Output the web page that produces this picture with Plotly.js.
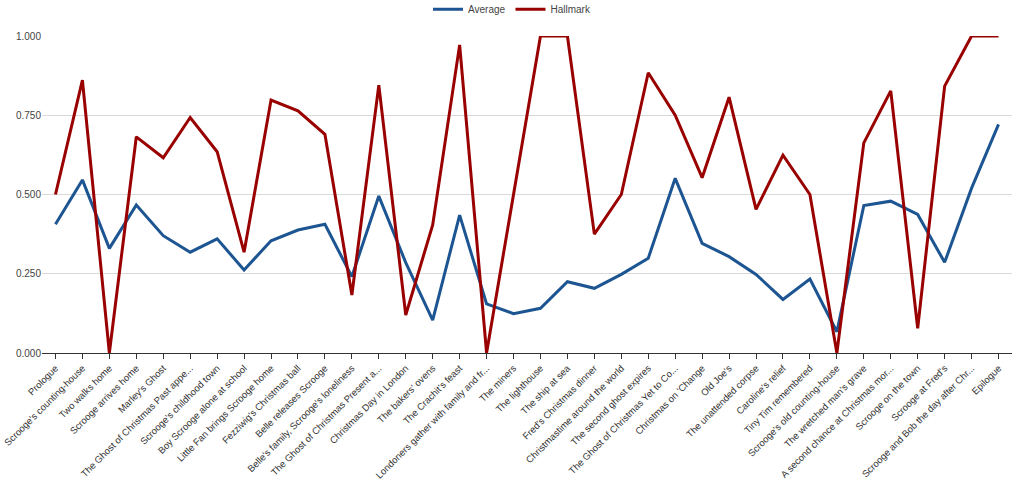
<!DOCTYPE html>
<html>
<head>
<meta charset="utf-8">
<script src="https://cdn.plot.ly/plotly-3.0.1.min.js"></script>
<style>html,body{margin:0;padding:0;background:#fff}#chart{width:1024px;height:488px}</style>
</head>
<body>
<div id="chart"></div>
<script>
var categories = [
  "Prologue",
  "Scrooge's counting-house",
  "Two walks home",
  "Scrooge arrives home",
  "Marley's Ghost",
  "The Ghost of Christmas Past appe...",
  "Scrooge's childhood town",
  "Boy Scrooge alone at school",
  "Little Fan brings Scrooge home",
  "Fezziwig's Christmas ball",
  "Belle releases Scrooge",
  "Belle's family, Scrooge's loneliness",
  "The Ghost of Christmas Present a...",
  "Christmas Day in London",
  "The bakers' ovens",
  "The Crachit's feast",
  "Londoners gather with family and fr...",
  "The miners",
  "The lighthouse",
  "The ship at sea",
  "Fred's Christmas dinner",
  "Christmastime around the world",
  "The second ghost expires",
  "The Ghost of Christmas Yet to Co...",
  "Christmas on 'Change",
  "Old Joe's",
  "The unattended corpse",
  "Caroline's relief",
  "Tiny Tim remembered",
  "Scrooge's old counting-house",
  "The wretched man's grave",
  "A second chance at Christmas mor...",
  "Scrooge on the town",
  "Scrooge at Fred's",
  "Scrooge and Bob the day after Chr...",
  "Epilogue"
];
var averageValues = [
  0.406, 0.546, 0.330, 0.467, 0.370, 0.318, 0.360, 0.262, 0.354, 0.388,
  0.406, 0.241, 0.495, 0.285, 0.104, 0.435, 0.155, 0.124, 0.141, 0.225,
  0.204, 0.248, 0.299, 0.551, 0.346, 0.304, 0.248, 0.169, 0.233, 0.067,
  0.465, 0.479, 0.437, 0.286, 0.520, 0.721
];
var hallmarkValues = [
  0.500, 0.861, 0.000, 0.682, 0.616, 0.743, 0.635, 0.318, 0.798, 0.764,
  0.690, 0.183, 0.845, 0.120, 0.404, 0.972, 0.000, 0.500, 1.000, 1.000,
  0.375, 0.500, 0.884, 0.750, 0.553, 0.807, 0.453, 0.624, 0.500, 0.000,
  0.663, 0.827, 0.078, 0.842, 1.000, 1.000
];
var yTickValues = [0, 0.25, 0.5, 0.75, 1];

var traces = [
  {x: categories, y: averageValues, name: "Average", type: "scatter", mode: "lines",
   line: {color: "#1c5591", width: 3}, cliponaxis: false},
  {x: categories, y: hallmarkValues, name: "Hallmark", type: "scatter", mode: "lines",
   line: {color: "#990000", width: 3}, cliponaxis: false}
];
var layout = {
  width: 1024, height: 488,
  margin: {l: 42, r: 12, t: 36, b: 135, autoexpand: false},
  paper_bgcolor: "#fff", plot_bgcolor: "#fff",
  font: {family: "Liberation Sans, Arial, sans-serif", size: 10, color: "#444"},
  showlegend: true,
  legend: {orientation: "h", x: 0.5, xanchor: "center", xref: "container",
           y: 0.981, yanchor: "middle", yref: "container",
           font: {size: 10, color: "#444"}, itemwidth: 30, traceorder: "normal"},
  xaxis: {type: "category", range: [-0.5, 35.5], tickangle: -45, showgrid: false,
          showline: true, linecolor: "#333", linewidth: 1, ticks: "outside", ticklen: 5,
          tickcolor: "#333", tickfont: {size: 9.5, color: "#333333"}, zeroline: false, automargin: false},
  yaxis: {range: [0, 1], tickvals: yTickValues, tickformat: ".3f", showgrid: true,
          gridcolor: "#d9d9d9", gridwidth: 1, zeroline: false, showline: false,
          ticks: "", tickfont: {size: 10, color: "#444"}, automargin: false}
};
Plotly.newPlot("chart", traces, layout, {displayModeBar: false, staticPlot: true});
</script>
</body>
</html>
